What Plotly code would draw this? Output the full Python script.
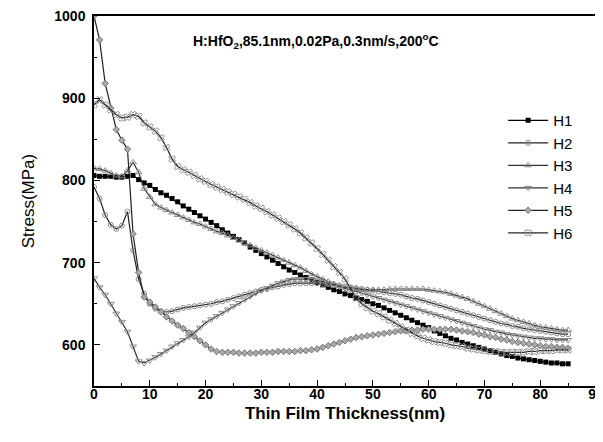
import plotly.graph_objects as go

thickness = list(range(0, 86))

H1 = [806, 805, 805, 805, 804, 804, 805, 806, 801, 797, 794, 789, 785, 782, 778, 774, 769, 765, 761, 757,
      753, 749, 745, 740, 736, 732, 728, 724, 719, 715, 711, 707, 703, 699, 695, 691, 688, 685, 682, 679,
      676, 673, 670, 667, 665, 662, 660, 657, 655, 653, 650, 648, 645, 642, 639, 636, 633, 630, 627, 624,
      621, 617, 614, 611, 608, 606, 603, 601, 599, 597, 595, 593, 591, 589, 587, 586, 584, 583, 582, 581,
      580, 579, 578, 578, 577, 577]

H2 = [792, 778, 758, 746, 741, 745, 762, 715, 680, 662, 650, 644, 641, 640, 641, 643, 645, 646, 647, 648,
      649, 650, 652, 653, 655, 657, 659, 661, 663, 665, 667, 668, 670, 671, 673, 674, 675, 675, 675, 675,
      675, 674, 674, 673, 672, 671, 670, 669, 668, 667, 666, 665, 664, 663, 662, 661, 659, 657, 656, 654,
      652, 650, 648, 646, 644, 642, 640, 638, 636, 634, 632, 630, 628, 626, 625, 623, 622, 620, 619, 618,
      617, 616, 615, 614, 613, 613]

H3 = [815, 814, 812, 809, 806, 805, 812, 822, 810, 790, 780, 771, 767, 764, 761, 758, 755, 752, 749, 747,
      744, 741, 738, 736, 733, 730, 727, 724, 721, 718, 715, 712, 709, 706, 703, 700, 697, 694, 690, 686,
      683, 680, 677, 674, 672, 670, 669, 668, 667, 667, 667, 667, 667, 668, 668, 668, 668, 668, 668, 668,
      667, 666, 665, 664, 662, 660, 658, 656, 653, 650, 647, 644, 641, 638, 635, 632, 630, 628, 626, 624,
      622, 621, 620, 619, 618, 618]

H4 = [681, 670, 661, 650, 638, 628, 616, 598, 580, 578, 581, 585, 589, 593, 598, 602, 606, 610, 615, 621,
      627, 631, 635, 639, 643, 647, 651, 655, 659, 663, 666, 669, 672, 675, 677, 679, 680, 680, 680, 679,
      678, 677, 675, 673, 671, 669, 667, 665, 663, 661, 659, 657, 655, 653, 651, 649, 647, 645, 643, 641,
      639, 637, 635, 633, 631, 629, 627, 625, 623, 621, 619, 618, 616, 615, 613, 612, 611, 610, 609, 608,
      608, 607, 607, 606, 606, 606]

H5 = [1000, 971, 918, 888, 862, 849, 838, 735, 688, 658, 652, 646, 640, 634, 629, 624, 620, 615, 610, 605,
      600, 595, 592, 591, 591, 591, 590, 590, 590, 590, 591, 591, 591, 592, 592, 592, 592, 593, 593, 594,
      595, 597, 599, 601, 603, 605, 607, 609, 610, 611, 612, 613, 614, 615, 616, 617, 617, 618, 618, 619,
      619, 619, 619, 619, 619, 618, 617, 616, 615, 613, 612, 610, 609, 607, 606, 604, 603, 602, 601, 600,
      599, 598, 598, 597, 597, 596]

H6 = [892, 898, 892, 886, 880, 876, 877, 880, 878, 870, 865, 860, 852, 840, 826, 817, 813, 810, 806, 802,
      799, 795, 792, 789, 786, 783, 780, 777, 773, 769, 766, 762, 758, 754, 750, 746, 741, 736, 730, 724,
      717, 710, 703, 695, 688, 680, 668, 657, 650, 645, 641, 638, 634, 630, 626, 622, 618, 614, 611, 608,
      606, 604, 603, 602, 600, 599, 598, 596, 595, 594, 593, 592, 592, 591, 591, 591, 591, 591, 592, 592,
      593, 593, 593, 594, 594, 594]

series_names = ["H1", "H2", "H3", "H4", "H5", "H6"]
series_values = [H1, H2, H3, H4, H5, H6]

FONT = "Liberation Sans, Arial, sans-serif"
GREY = "#8a8a8a"
styles = [
    dict(symbol="square", color="black", line=dict(color="black", width=0), size=5),
    dict(symbol="circle-open", color=GREY, line=dict(color=GREY, width=1), size=5),
    dict(symbol="triangle-up-open", color=GREY, line=dict(color=GREY, width=1), size=6),
    dict(symbol="triangle-down-open", color=GREY, line=dict(color=GREY, width=1), size=6),
    dict(symbol="diamond", color="#a8a8a8", line=dict(color="#777777", width=1), size=5),
    dict(symbol="x-open", color=GREY, line=dict(color="#707070", width=1), size=6),
]
line_colors = ["black", "#222222", "#333333", "#333333", "#222222", "#222222"]

fig = go.Figure()
for name, vals, mk, lc in zip(series_names, series_values, styles, line_colors):
    fig.add_trace(go.Scatter(
        x=thickness, y=vals, name=name, mode="lines+markers",
        line=dict(color=lc, width=1.2), marker=mk,
    ))

axis_common = dict(
    showline=True, linecolor="black", linewidth=1.5, mirror=True,
    ticks="inside", ticklen=6, tickwidth=1.2, tickcolor="black",
    showgrid=False, zeroline=False, automargin=False, ticklabeloverflow="allow",
    tickfont=dict(family=FONT, size=14, color="black", weight="bold"),
)

# The page body has an 8px default margin, so the figure is sized to fit the window.
fig.update_layout(
    width=595, height=434,
    margin=dict(l=86, r=7, t=8, b=56),
    paper_bgcolor="white", plot_bgcolor="white",
    font=dict(family=FONT, color="black"),
    xaxis=dict(
        range=[0, 90], dtick=10, tick0=0, ticklabelstandoff=-6,
        minor=dict(dtick=5, ticks="inside", ticklen=3, tickcolor="black", tickwidth=1.2),
        title=dict(text="Thin Film Thickness(nm)", font=dict(family=FONT, size=17, weight="bold"), standoff=7),
        **axis_common,
    ),
    yaxis=dict(
        range=[550, 1000], dtick=100, tick0=600, ticklabelstandoff=4,
        minor=dict(dtick=50, ticks="inside", ticklen=3, tickcolor="black", tickwidth=1.2),
        title=dict(text="Stress(MPa)", font=dict(family=FONT, size=17), standoff=15),
        **axis_common,
    ),
    legend=dict(
        x=0.815, y=0.762, xanchor="left", yanchor="top",
        font=dict(family=FONT, size=15, color="black"),
        bgcolor="rgba(0,0,0,0)", itemwidth=40, tracegroupgap=0,
    ),
    annotations=[dict(
        text="H:HfO<sub>2</sub>,85.1nm,0.02Pa,0.3nm/s,200<sup>o</sup>C",
        xref="paper", yref="paper", x=0.442, y=0.932, xanchor="center", yanchor="middle",
        showarrow=False, font=dict(family=FONT, size=14, color="black", weight="bold"),
    )],
)

fig.write_html("out.html")
